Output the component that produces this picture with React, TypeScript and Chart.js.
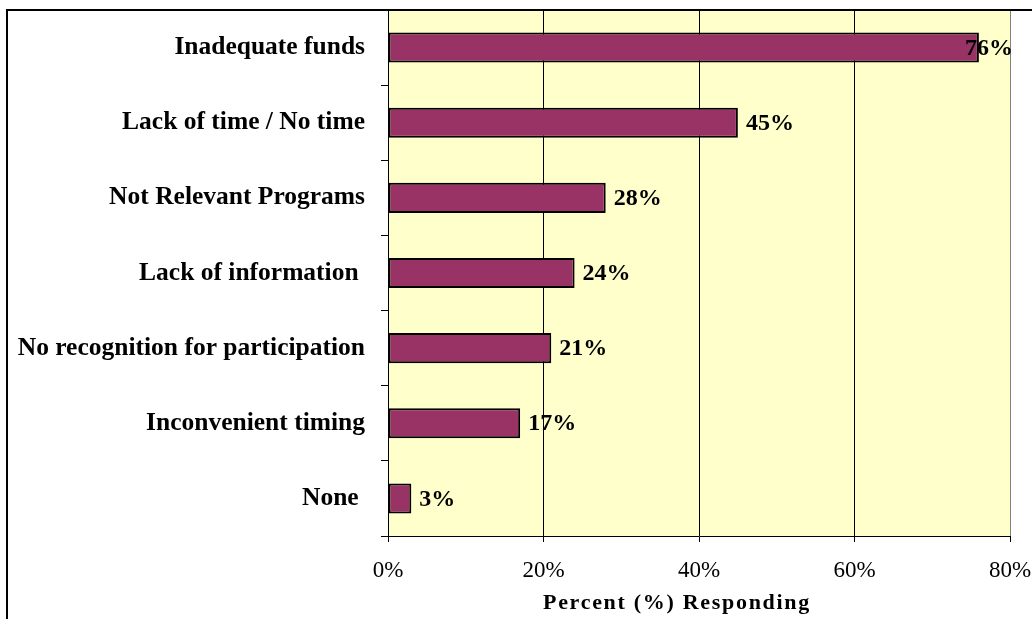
import React, { useEffect, useRef } from "react";
import { Chart, registerables } from "chart.js";

Chart.register(...registerables);

const categories = [
  "Inadequate funds",
  "Lack of time / No time",
  "Not Relevant Programs",
  "Lack of information ",
  "No recognition for participation",
  "Inconvenient timing",
  "None ",
];
const percentValues = [76, 45, 28, 24, 21, 17, 3];
const xTickValues = [0, 20, 40, 60, 80];
const xAxisTitle = "Percent (%) Responding";

const SERIF = "'Liberation Serif', 'Times New Roman', serif";

export default function App() {
  const ref = useRef<HTMLCanvasElement | null>(null);

  useEffect(() => {
    document.body.style.margin = "0";
    const canvas = ref.current;
    if (!canvas) return;

    const framePlugin = {
      id: "frame",
      beforeDraw(chart: any) {
        const { ctx, chartArea } = chart;
        ctx.save();
        ctx.fillStyle = "#FFFFCC";
        ctx.fillRect(chartArea.left, chartArea.top, chartArea.right - chartArea.left, chartArea.bottom - chartArea.top);
        ctx.restore();
      },
      afterDraw(chart: any) {
        const { ctx } = chart;
        ctx.save();
        // outer chart border (top and left visible)
        ctx.strokeStyle = "#000";
        ctx.lineWidth = 2;
        ctx.beginPath();
        ctx.moveTo(7, 630);
        ctx.lineTo(7, 10);
        ctx.lineTo(1040, 10);
        ctx.stroke();
        // axis title
        ctx.fillStyle = "#000";
        ctx.font = `bold 22px ${SERIF}`;
        (ctx as any).letterSpacing = "1.7px";
        ctx.textAlign = "center";
        ctx.textBaseline = "middle";
        ctx.fillText(xAxisTitle, 677, 603);
        ctx.restore();
      },
    };

    const labelPlugin = {
      id: "barLabels",
      afterDatasetsDraw(chart: any) {
        const { ctx, chartArea } = chart;
        const meta = chart.getDatasetMeta(0);
        ctx.save();
        ctx.fillStyle = "#000";
        ctx.font = `bold 24px ${SERIF}`;
        ctx.textAlign = "left";
        ctx.textBaseline = "middle";
        meta.data.forEach((bar: any, i: number) => {
          const text = percentValues[i] + "%";
          const w = ctx.measureText(text).width;
          let x = bar.x + 8;
          if (x + w > chartArea.right + 3) x = chartArea.right + 3 - w;
          ctx.fillText(text, x, bar.y + 1);
        });
        ctx.restore();
      },
    };

    const chart = new Chart(canvas, {
      type: "bar",
      data: {
        labels: categories,
        datasets: [
          {
            data: percentValues,
            backgroundColor: "#993366",
            borderColor: "#000000",
            borderWidth: 2,
            borderSkipped: false,
            barPercentage: 0.4,
            categoryPercentage: 1,
          },
        ],
      },
      options: {
        indexAxis: "y",
        animation: false,
        responsive: false,
        maintainAspectRatio: false,
        layout: { padding: { left: 0, top: 10, right: 22, bottom: 0 } },
        plugins: {
          legend: { display: false },
          tooltip: { enabled: false },
        },
        scales: {
          x: {
            type: "linear",
            min: 0,
            max: 80,
            afterBuildTicks(scale: any) {
              scale.ticks = xTickValues.map((v) => ({ value: v }));
            },
            afterFit(scale: any) {
              scale.height = 83;
              scale.paddingLeft = 0;
              scale.paddingRight = 0;
            },
            ticks: {
              callback: (v: any) => v + "%",
              color: "#000",
              font: { family: SERIF, size: 23 },
              padding: 15,
              maxRotation: 0,
            },
            grid: {
              color: (c: any) => (c.tick && c.tick.value === 80 ? "#808080" : "#000"),
              tickColor: "#000",
              lineWidth: 1,
              tickLength: 6,
              drawOnChartArea: true,
            },
            border: { display: true, color: "#000", width: 1 },
          },
          y: {
            afterFit(scale: any) {
              scale.width = 388;
              scale.paddingTop = 0;
              scale.paddingBottom = 0;
            },
            ticks: {
              color: "#000",
              font: { family: SERIF, size: 25.5, weight: "bold" },
              padding: 16,
              autoSkip: false,
            },
            grid: {
              offset: true,
              drawOnChartArea: false,
              color: "#000",
              tickLength: 7,
            },
            border: { display: true, color: "#000", width: 1 },
          },
        },
      },
      plugins: [framePlugin, labelPlugin],
    } as any);

    return () => chart.destroy();
  }, []);

  return (
    <div style={{ position: "relative", width: 1032, height: 619 }}>
      <canvas ref={ref} width={1032} height={619} style={{ display: "block" }} />
    </div>
  );
}
